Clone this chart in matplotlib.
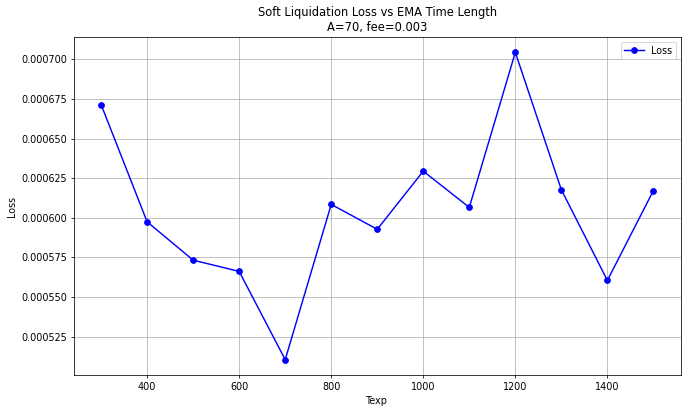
import matplotlib
matplotlib.use("Agg")
import matplotlib.pyplot as plt

texp = [300, 400, 500, 600, 700, 800, 900, 1000, 1100, 1200, 1300, 1400, 1500]
loss = [0.0006715, 0.0005975, 0.0005733, 0.0005662, 0.0005105, 0.0006085,
        0.0005928, 0.0006295, 0.0006066, 0.0007045, 0.0006178, 0.0005605, 0.0006172]

fig = plt.figure(figsize=(10, 411/69), dpi=69)
ax = fig.add_axes([73.5/690, 1 - 375/411, (681-73.5)/690, (375-37)/411])
ax.plot(texp, loss, marker='o', color='blue', label='Loss')
ax.set_title('Soft Liquidation Loss vs EMA Time Length\nA=70, fee=0.003')
ax.set_xlabel('Texp')
ax.set_ylabel('Loss')
ax.grid(True)
ax.legend(loc='upper right')
fig.savefig('out.png', dpi=69)
